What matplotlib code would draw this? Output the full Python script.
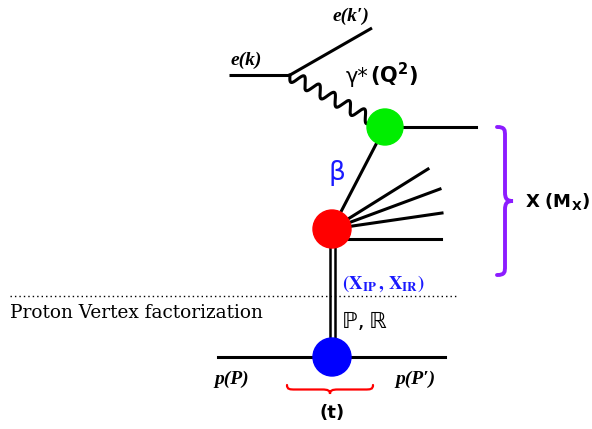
import numpy as np
import matplotlib
matplotlib.use("Agg")
import matplotlib.pyplot as plt
from matplotlib.path import Path
from matplotlib.patches import PathPatch, Circle

W, H = 592, 429

# ---- diagram geometry (pixel coordinates, y downward) ----
vertex_e = (290, 75)
e_in_start = (229, 75)
e_out_end = (372, 28)
green_c = (385, 127)
red_c = (332, 229)
blue_c = (332, 357)
radius_green, radius_red, radius_blue = 18, 19, 19
green_out_end = (476, 127)
fan_ends = [(428, 169), (440, 189), (442, 213)]
fan_flat_y = 239
fan_flat_x = (340, 441)
double_x = [329.5, 334.5]
proton_y = 357
proton_x = (218, 445)
dotted_y = 296
dotted_x = (10, 458)
photon_periods = 6.3
photon_amp = 6.0

fig = plt.figure(figsize=(W / 100, H / 100), dpi=100)
ax = fig.add_axes([0, 0, 1, 1])
ax.set_xlim(0, W)
ax.set_ylim(H, 0)
ax.axis("off")

lw = 2.2
k = "black"

# electron lines
ax.plot([e_in_start[0], vertex_e[0]], [e_in_start[1], vertex_e[1]], color=k, lw=lw, solid_capstyle="butt")
ax.plot([vertex_e[0], e_out_end[0]], [vertex_e[1], e_out_end[1]], color=k, lw=lw, solid_capstyle="butt")

# photon wavy line
p0 = np.array(vertex_e, float)
p1 = np.array(green_c, float)
d = p1 - p0
L = np.hypot(*d)
u = d / L
n = np.array([-u[1], u[0]])
s = np.linspace(0, L - radius_green + 2, 600)
off = photon_amp * np.sin(2 * np.pi * photon_periods * s / L)
pts = p0[None, :] + s[:, None] * u[None, :] + off[:, None] * n[None, :]
ax.plot(pts[:, 0], pts[:, 1], color=k, lw=lw)

# green outgoing line
ax.plot([green_c[0], green_out_end[0]], [green_c[1], green_out_end[1]], color=k, lw=lw)
# green -> red
ax.plot([green_c[0], red_c[0]], [green_c[1], red_c[1]], color=k, lw=lw)
# fan
for ex, ey in fan_ends:
    ax.plot([red_c[0], ex], [red_c[1], ey], color=k, lw=lw)
ax.plot([fan_flat_x[0], fan_flat_x[1]], [fan_flat_y, fan_flat_y], color=k, lw=lw)

# double line
for xx in double_x:
    ax.plot([xx, xx], [red_c[1], blue_c[1]], color=k, lw=1.8)

# proton line
ax.plot([proton_x[0], proton_x[1]], [proton_y, proton_y], color=k, lw=lw)

# dotted line
ax.plot([dotted_x[0], dotted_x[1]], [dotted_y, dotted_y], color=k, lw=1.0, ls=(0, (1, 2.2)))

# circles
ax.add_patch(Circle(green_c, radius_green, color="#00ee00", zorder=5))
ax.add_patch(Circle(red_c, radius_red, color="#ff0000", zorder=5))
ax.add_patch(Circle(blue_c, radius_blue, color="#0000ff", zorder=5))


def vbrace(x0, x1, y0, y1, color, lw):
    # tip pointing to the right at x1
    xm = (x0 + x1) / 2
    ym = (y0 + y1) / 2
    r = 9
    verts = [
        (x0, y0),
        (xm, y0), (xm, y0 + 3), (xm, y0 + r),
        (xm, ym - r),
        (xm, ym - 2), (xm + 2, ym), (x1, ym),
        (xm + 2, ym), (xm, ym + 2), (xm, ym + r),
        (xm, y1 - r),
        (xm, y1 - 3), (xm, y1), (x0, y1),
    ]
    codes = [Path.MOVETO, Path.CURVE4, Path.CURVE4, Path.CURVE4, Path.LINETO,
             Path.CURVE4, Path.CURVE4, Path.CURVE4,
             Path.CURVE4, Path.CURVE4, Path.CURVE4, Path.LINETO,
             Path.CURVE4, Path.CURVE4, Path.CURVE4]
    ax.add_patch(PathPatch(Path(verts, codes), fill=False, ec=color, lw=lw, capstyle="round"))


def hbrace(x0, x1, y0, y1, color, lw):
    # tip pointing downward at y1
    xm = (x0 + x1) / 2
    ym = (y0 + y1) / 2
    r = 8
    verts = [
        (x0, y0),
        (x0, ym), (x0 + 3, ym), (x0 + r, ym),
        (xm - r, ym),
        (xm - 2, ym), (xm, ym + 1), (xm, y1),
        (xm, ym + 1), (xm + 2, ym), (xm + r, ym),
        (x1 - r, ym),
        (x1 - 3, ym), (x1, ym), (x1, y0),
    ]
    codes = [Path.MOVETO, Path.CURVE4, Path.CURVE4, Path.CURVE4, Path.LINETO,
             Path.CURVE4, Path.CURVE4, Path.CURVE4,
             Path.CURVE4, Path.CURVE4, Path.CURVE4, Path.LINETO,
             Path.CURVE4, Path.CURVE4, Path.CURVE4]
    ax.add_patch(PathPatch(Path(verts, codes), fill=False, ec=color, lw=lw, capstyle="round"))


vbrace(497, 513, 127, 275, "#8c1cff", 2.8)
hbrace(287, 373, 385, 394, "#ff0000", 1.6)

serif_bi = dict(family=["Liberation Serif", "DejaVu Serif"], weight="bold", style="italic")
ax.text(246, 60, "e(k)", fontsize=14, ha="center", va="center", **serif_bi)
ax.text(351, 16, "e(k\u2032)", fontsize=14, ha="center", va="center", **serif_bi)
ax.text(232, 379, "p(P)", fontsize=14, ha="center", va="center", **serif_bi)
ax.text(415, 379, "p(P\u2032)", fontsize=14, ha="center", va="center", **serif_bi)

ax.text(368, 77, "\u03b3*", fontsize=15, ha="right", va="center", family="DejaVu Sans")
ax.text(370, 75, r"$\mathbf{(Q^2)}$", fontsize=15, ha="left", va="center",
        math_fontfamily="dejavusans")

ax.text(337, 173, "\u03b2", fontsize=19, ha="center", va="center", color="#1a1aff", family="DejaVu Sans")

ax.text(383, 284, r"$\mathbf{(X_{IP}\,,\,X_{IR})}$", fontsize=13.5, ha="center", va="center",
        color="#1a1aff", math_fontfamily="stix")

ax.text(342, 322, "\u2119,\u2009\u211d", fontsize=16, ha="left", va="center", family="DejaVu Sans")

ax.text(10, 313, "Proton Vertex factorization", fontsize=13.3, ha="left", va="center",
        family=["DejaVu Serif"])

ax.text(332, 413, "(t)", fontsize=13, ha="center", va="center", family="DejaVu Sans", weight="bold")

ax.text(525, 202, r"$\mathbf{X\ (M_X)}$", fontsize=13, ha="left", va="center",
        math_fontfamily="dejavusans")

fig.savefig("out.png", dpi=100)
